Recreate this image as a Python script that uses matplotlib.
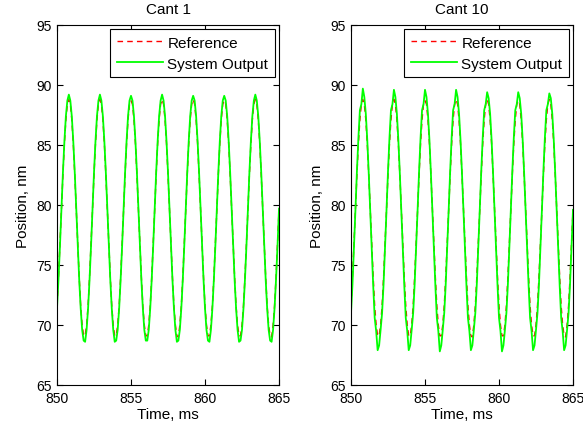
import numpy as np
import matplotlib
matplotlib.use('Agg')
import matplotlib.pyplot as plt

plt.rcParams['font.family'] = ['Liberation Sans', 'DejaVu Sans']
plt.rcParams['font.size'] = 11

# sample grid of the recorded signals (ms)
t_start = 850.0
t_step = 0.1
n_samples = 151

titles = ['Cant 1', 'Cant 10']

# reference position (nm), same command for both cantilevers
reference = [
    71.6, 74.0, 76.7, 79.6, 82.5, 85.1, 87.1, 88.4, 88.8, 88.4, 87.1, 85.1, 82.5, 79.6, 76.7, 74.0, 71.6, 70.0, 69.1, 69.1, 70.0,
    71.6, 74.0, 76.7, 79.6, 82.5, 85.1, 87.1, 88.4, 88.8, 88.4, 87.1, 85.1, 82.5, 79.6, 76.7, 74.0, 71.6, 70.0, 69.1, 69.1, 70.0,
    71.6, 74.0, 76.7, 79.6, 82.5, 85.1, 87.1, 88.4, 88.7, 88.4, 87.1, 85.1, 82.5, 79.6, 76.7, 74.0, 71.6, 70.0, 69.1, 69.1, 70.0,
    71.6, 74.0, 76.7, 79.6, 82.5, 85.1, 87.1, 88.4, 88.8, 88.4, 87.1, 85.1, 82.5, 79.6, 76.7, 74.0, 71.6, 70.0, 69.1, 69.0, 70.0,
    71.6, 74.0, 76.7, 79.6, 82.5, 85.1, 87.1, 88.4, 88.8, 88.4, 87.1, 85.1, 82.5, 79.6, 76.7, 74.0, 71.6, 70.0, 69.1, 69.1, 70.0,
    71.6, 74.0, 76.7, 79.6, 82.5, 85.1, 87.1, 88.4, 88.7, 88.4, 87.1, 85.1, 82.5, 79.6, 76.7, 74.0, 71.6, 70.0, 69.1, 69.1, 70.0,
    71.6, 74.0, 76.7, 79.6, 82.5, 85.1, 87.1, 88.4, 88.8, 88.4, 87.1, 85.1, 82.5, 79.6, 76.7, 74.0, 71.6, 70.0, 69.1, 69.0, 70.0,
    71.6, 74.0, 76.7, 79.6,
]

# measured output, cantilever 1
output_cant1 = [
    71.4, 73.8, 76.6, 79.7, 82.7, 85.3, 87.4, 88.7, 89.2, 88.7, 87.4, 85.3, 82.7, 79.7, 76.6, 73.8, 71.4, 69.6, 68.7, 68.6, 69.6,
    71.4, 73.8, 76.6, 79.7, 82.7, 85.3, 87.4, 88.7, 89.2, 88.7, 87.4, 85.3, 82.7, 79.7, 76.6, 73.8, 71.4, 69.6, 68.6, 68.7, 69.6,
    71.4, 73.8, 76.6, 79.7, 82.7, 85.3, 87.4, 88.7, 89.1, 88.7, 87.4, 85.3, 82.7, 79.7, 76.6, 73.8, 71.4, 69.6, 68.7, 68.7, 69.6,
    71.4, 73.8, 76.6, 79.7, 82.7, 85.3, 87.4, 88.7, 89.2, 88.7, 87.4, 85.3, 82.7, 79.7, 76.6, 73.8, 71.4, 69.6, 68.6, 68.7, 69.6,
    71.4, 73.8, 76.6, 79.7, 82.7, 85.3, 87.4, 88.7, 89.1, 88.7, 87.4, 85.3, 82.7, 79.7, 76.6, 73.8, 71.4, 69.6, 68.7, 68.6, 69.6,
    71.4, 73.8, 76.6, 79.7, 82.7, 85.3, 87.4, 88.7, 89.1, 88.7, 87.4, 85.3, 82.7, 79.7, 76.6, 73.8, 71.4, 69.6, 68.6, 68.7, 69.6,
    71.4, 73.8, 76.6, 79.7, 82.7, 85.3, 87.4, 88.7, 89.2, 88.7, 87.4, 85.3, 82.7, 79.7, 76.6, 73.8, 71.4, 69.6, 68.7, 68.6, 69.6,
    71.4, 73.8, 76.6, 79.7,
]

# measured output, cantilever 10 (larger swing, sharper tips)
output_cant10 = [
    71.0, 73.4, 76.4, 79.6, 82.8, 85.6, 87.9, 88.4, 89.7, 89.0, 87.6, 85.4, 82.6, 79.5, 76.3, 73.3, 70.6, 69.5, 67.9, 68.3, 69.6,
    71.0, 73.4, 76.4, 79.6, 82.8, 85.6, 87.9, 88.4, 89.6, 89.0, 87.6, 85.4, 82.6, 79.5, 76.3, 73.3, 70.6, 69.5, 67.9, 68.3, 69.6,
    71.0, 73.4, 76.4, 79.6, 82.8, 85.6, 87.9, 88.4, 89.6, 89.0, 87.6, 85.4, 82.6, 79.5, 76.3, 73.3, 70.6, 69.5, 67.8, 68.3, 69.6,
    71.0, 73.4, 76.4, 79.6, 82.8, 85.6, 87.9, 88.4, 89.6, 89.0, 87.6, 85.4, 82.6, 79.5, 76.3, 73.3, 70.6, 69.5, 67.9, 68.3, 69.6,
    71.0, 73.4, 76.4, 79.6, 82.8, 85.6, 87.9, 88.4, 89.4, 88.9, 87.6, 85.4, 82.6, 79.5, 76.3, 73.3, 70.6, 69.5, 67.8, 68.3, 69.6,
    71.0, 73.4, 76.4, 79.6, 82.8, 85.6, 87.9, 88.4, 89.4, 88.9, 87.6, 85.4, 82.6, 79.5, 76.3, 73.3, 70.6, 69.5, 67.9, 68.3, 69.6,
    71.0, 73.4, 76.4, 79.6, 82.8, 85.6, 87.9, 88.4, 89.3, 88.9, 87.6, 85.4, 82.6, 79.5, 76.3, 73.3, 70.6, 69.5, 67.9, 68.3, 69.6,
    71.0, 73.4, 76.4, 79.6,
]

outputs = [output_cant1, output_cant10]

t = t_start + t_step * np.arange(n_samples)

fig = plt.figure(figsize=(5.83, 4.31), dpi=100)
lefts = [57 / 583, 351 / 583]

for i in range(2):
    ax = fig.add_axes([lefts[i], 45 / 431, 222 / 583, 360 / 431])
    ax.plot(t, reference, color='red', lw=1.0, dashes=(4, 3), label='Reference')
    ax.plot(t, outputs[i], color='#00ff00', lw=1.3, label='System Output')

    ax.set_xlim(850, 865)
    ax.set_ylim(65, 95)
    ax.set_xticks([850, 855, 860, 865])
    ax.set_yticks([65, 70, 75, 80, 85, 90, 95])
    ax.tick_params(direction='in', top=True, right=True, length=4, width=0.8, labelsize=10)
    ax.tick_params(axis='x', pad=4)
    ax.tick_params(axis='y', pad=4)
    for s in ax.spines.values():
        s.set_linewidth(0.8)

    ax.set_title(titles[i], fontsize=11, pad=9)
    ax.set_xlabel('Time, ms', fontsize=11, labelpad=2)
    ax.set_ylabel('Position, nm', fontsize=11, labelpad=4)

    leg = ax.legend(loc='upper right', fontsize=11, fancybox=False, framealpha=1,
                    edgecolor='black', borderaxespad=0.25, handlelength=3.0,
                    handletextpad=0.3, borderpad=0.45, labelspacing=0.45)
    leg.get_frame().set_linewidth(0.8)

fig.savefig('out.png', dpi=100)
